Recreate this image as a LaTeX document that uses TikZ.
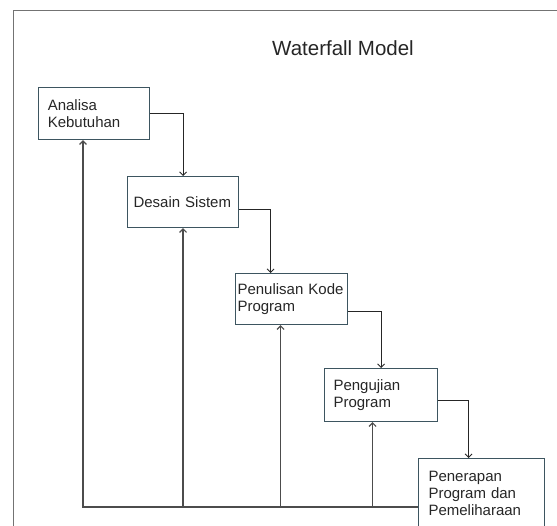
\documentclass[tikz,border=0pt]{standalone}
\usepackage{fontspec}
\setmainfont{Liberation Sans}
\usetikzlibrary{
  arrows.meta,
  positioning,
  calc
}
\definecolor{boxline}{HTML}{3D5560}
\tikzset{
  >={Straight Barb[length=3.5pt,width=7pt]},
  frame/.style={draw=black!55,line width=1.6pt},
  phase/.style={
    draw=boxline,
    rectangle,
    anchor=north west,
    align=left,
    font=\fontsize{15}{17}\selectfont,
    text=black!85,
    line width=1.1pt,
    inner ysep=0pt
  },
  flow/.style={->,draw=black!85,line width=0.9pt},
  back/.style={->,draw=black!70,line width=1.2pt}
}

\begin{document}
\begin{tikzpicture}[x=1pt,y=-1pt]
\useasboundingbox (0,0) rectangle (557,526);
\clip (0,0) rectangle (557,526);
\draw[frame] (13.5,530) -- (13.5,10.5) -- (560,10.5);
\node[font=\fontsize{20.5}{24}\selectfont,text=black!85] (title) at (343,48) {Waterfall Model};
% phases
\node[phase,text width=92pt,inner xsep=9.5pt,minimum height=52pt] (analisa) at (37.7,87) {Analisa\\Kebutuhan};
\node[phase,text width=99pt,inner xsep=6pt,minimum height=51pt] (desain) at (127,176) {Desain Sistem};
\node[phase,text width=108pt,inner xsep=2pt,minimum height=51pt] (penulisan) at (235,273) {Penulisan Kode\\Program};
\node[phase,text width=95pt,inner xsep=9pt,minimum height=53pt] (pengujian) at (324,368) {Pengujian\\Program};
\node[phase,text width=106pt,inner xsep=10pt,inner ysep=13pt] (penerapan) at (418,458) {Penerapan\\Program dan\\Pemeliharaan};
% forward
\draw[flow] (analisa.east) -| (desain.north);
\draw[flow] ([yshift=-7.5pt]desain.east) -| ([xshift=-21pt]penulisan.north);
\draw[flow] ([yshift=-12.5pt]penulisan.east) -| (pengujian.north);
\draw[flow] ([yshift=-5.5pt]pengujian.east) -| ([xshift=-13pt]penerapan.north);
% feedback
\coordinate (base) at (83,507);
\coordinate (up3) at ($(penulisan.south)+(-11,0)$);
\coordinate (up4) at ($(pengujian.south)+(-8.5,0)$);
\draw[back] (penerapan.west |- base) -- (base) -- (base |- analisa.south);
\draw[back] (desain.south |- base) -- (desain.south);
\draw[back] (up3 |- base) -- (up3);
\draw[back] (up4 |- base) -- (up4);
\end{tikzpicture}
\end{document}
